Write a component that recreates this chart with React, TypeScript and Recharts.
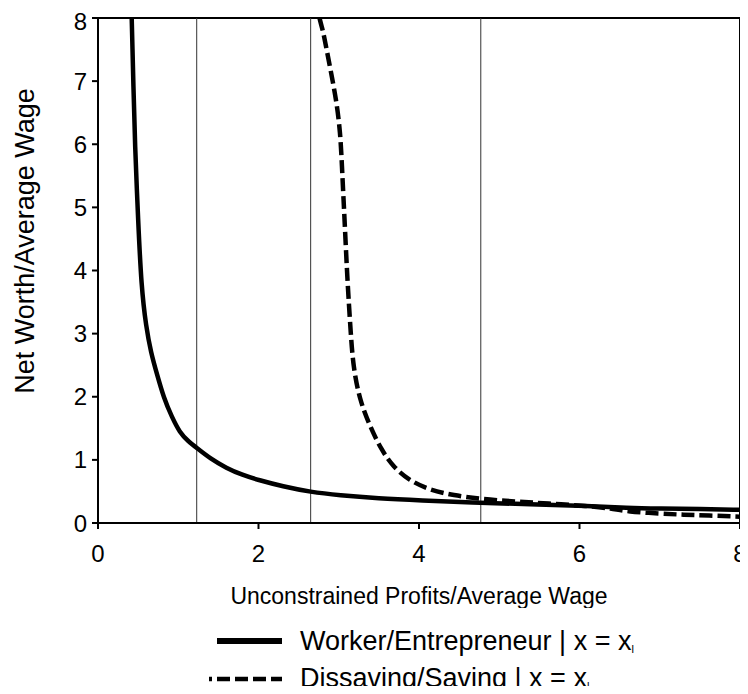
import React from 'react';
import { LineChart, Line, XAxis, YAxis, ReferenceLine, ReferenceArea } from 'recharts';

// Worker/Entrepreneur threshold curve
const solidX = [0.42, 0.43, 0.44, 0.46, 0.5, 0.54, 0.6, 0.66, 0.73, 0.82, 0.92, 1.02, 1.12, 1.23, 1.4, 1.6, 1.8, 2.0, 2.3, 2.65, 3.0, 3.5, 4.0, 4.77, 5.5, 6.1, 6.6, 7.0, 7.5, 8.0];
const solidY = [8.0, 7.5, 7.0, 6.0, 4.8, 3.74, 3.1, 2.7, 2.38, 1.98, 1.68, 1.43, 1.3, 1.19, 1.02, 0.87, 0.76, 0.68, 0.58, 0.49, 0.44, 0.39, 0.36, 0.32, 0.29, 0.27, 0.24, 0.23, 0.22, 0.21];

// Dissaving/Saving threshold curve
const dashX = [2.76, 2.79, 2.81, 2.89, 2.97, 3.02, 3.04, 3.06, 3.08, 3.1, 3.12, 3.15, 3.18, 3.26, 3.39, 3.53, 3.68, 3.87, 4.14, 4.43, 4.76, 5.2, 5.6, 6.1, 6.4, 6.6, 7.0, 7.3, 7.6, 8.0];
const dashY = [8.0, 7.85, 7.76, 7.23, 6.7, 6.18, 5.65, 5.12, 4.6, 4.06, 3.6, 3.0, 2.48, 1.95, 1.53, 1.16, 0.89, 0.68, 0.52, 0.44, 0.38, 0.34, 0.31, 0.27, 0.23, 0.18, 0.15, 0.13, 0.12, 0.1];

const cutoffs = [1.23, 2.65, 4.77];
const xTicks = [0, 2, 4, 6, 8];
const yTicks = [0, 1, 2, 3, 4, 5, 6, 7, 8];

const font = '"Liberation Sans", Arial, sans-serif';

const solidData = solidX.map((x, i) => ({ x, y: solidY[i] }));
const dashData = dashX.map((x, i) => ({ x, y: dashY[i] }));

const YLabel = () => (
  <text
    x={26}
    y={233}
    transform="rotate(-90, 26, 233)"
    textAnchor="middle"
    fontSize={27}
    fontFamily={font}
    fill="#000"
  >
    Net Worth/Average Wage
  </text>
);

const Legend = () => (
  <svg width={740} height={86} style={{ position: 'absolute', left: 0, top: 599 }}>
    <line x1={209} y1={34} x2={274} y2={34} stroke="#000" strokeWidth={6} />
    <text x={292} y={43} fontSize={27} fontFamily={font} fill="#000">
      Worker/Entrepreneur | x = x
      <tspan fontSize={11} dy={3}>l</tspan>
    </text>
    <line x1={201} y1={72} x2={274} y2={72} stroke="#000" strokeWidth={4.5} strokeDasharray="3 5 13 5 13 5 13 5 13 5" />
    <text x={292} y={80} fontSize={27} fontFamily={font} fill="#000">
      Dissaving/Saving | x = x
      <tspan fontSize={11} dy={3}>l</tspan>
    </text>
  </svg>
);

export default function App() {
  return (
    <div style={{ position: 'relative', width: 740, height: 678 }}>
      <style>{'html, body { overflow: hidden; }'}</style>
      <LineChart width={740} height={600} margin={{ top: 10, right: 8, left: 0, bottom: 0 }}>
        <XAxis
          type="number"
          dataKey="x"
          domain={[0, 8]}
          ticks={xTicks}
          allowDuplicatedCategory={false}
          height={85}
          tickSize={6}
          tickMargin={16}
          stroke="#000"
          strokeWidth={2}
          tick={{ fontSize: 24, fontFamily: font, fill: '#000' }}
          label={{
            value: 'Unconstrained Profits/Average Wage',
            position: 'insideTop',
            offset: 65,
            fontSize: 23,
            fontFamily: font,
            fill: '#000',
          }}
        />
        <YAxis
          type="number"
          dataKey="y"
          domain={[0, 8]}
          ticks={yTicks}
          width={90}
          tickSize={6}
          tickMargin={5}
          stroke="#000"
          strokeWidth={2}
          tick={{ fontSize: 24, fontFamily: font, fill: '#000' }}
          label={<YLabel />}
        />
        <ReferenceArea x1={0} x2={8} y1={0} y2={8} fill="none" stroke="#000" strokeWidth={2} />
        {cutoffs.map((c) => (
          <ReferenceLine key={c} x={c} stroke="#333" strokeWidth={1} />
        ))}
        <Line
          data={solidData}
          dataKey="y"
          type="basis"
          stroke="#000"
          strokeWidth={4.5}
          dot={false}
          isAnimationActive={false}
        />
        <Line
          data={dashData}
          dataKey="y"
          type="basis"
          stroke="#000"
          strokeWidth={4.5}
          strokeDasharray="13 5"
          dot={false}
          isAnimationActive={false}
        />
      </LineChart>
      <Legend />
    </div>
  );
}
